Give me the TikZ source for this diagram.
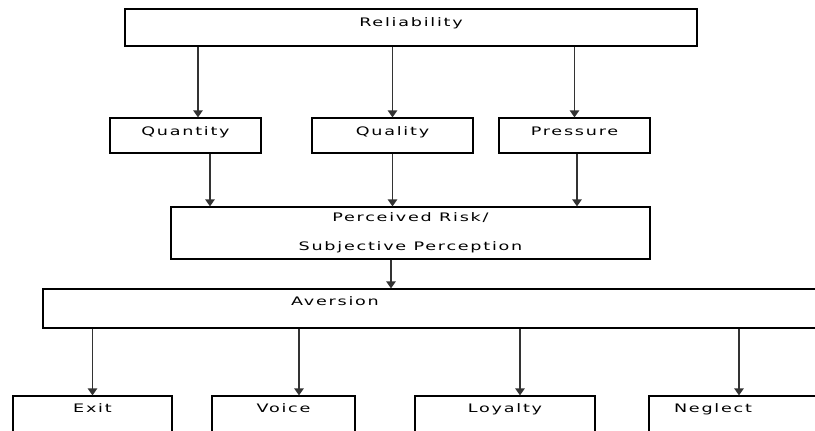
\documentclass[tikz,border=0pt]{standalone}
\usepackage{fontspec}
\setmainfont[FakeStretch=1.5,LetterSpace=15]{DejaVu Sans}
\usetikzlibrary{arrows.meta}

\begin{document}
\begin{tikzpicture}[node distance=3cm, font=\fontsize{10}{12}\selectfont,
  box/.style={rectangle,draw,line width=1pt,align=center,inner xsep=0pt,inner ysep=0pt},
  arr/.style={-{Triangle[length=6pt,width=8pt]},line width=1.2pt,black!80}]
\useasboundingbox (-12.33,0.825) rectangle (12.12,-12.075);

\node (rel) [box, minimum width=17.16cm, text height=0.51cm, text depth=0.6cm] {Reliability};

\node (qty) [box, below of=rel, xshift=-6.765cm, yshift=-0.24cm, minimum width=4.53cm, text height=0.525cm, text depth=0.525cm] {Quantity};
\node (qual) [box, right of=qty, xshift=3.21cm, minimum width=4.83cm, text height=0.525cm, text depth=0.525cm] {Quality};
\node (pres) [box, right of=qual, xshift=2.46cm, minimum width=4.53cm, text height=0.525cm, text depth=0.525cm] {Pressure};

\node (risk) [box, below of=qual, xshift=0.54cm, yshift=0.075cm, minimum width=14.37cm, minimum height=1.56cm] {Perceived Risk/\\[12.8pt]Subjective Perception};

\node (av) [box, below of=risk, xshift=0.63cm, yshift=0.735cm, minimum width=23.31cm, text height=0.48cm, text depth=0.69cm] {Aversion\hspace*{5.79cm}};

\node (exit) [box, below of=av, xshift=-10.17cm, yshift=-0.165cm, minimum width=4.77cm, text height=0.48cm, text depth=0.6cm] {Exit};
\node (voice) [box, right of=exit, xshift=2.73cm, minimum width=4.29cm, text height=0.48cm, text depth=0.6cm] {Voice};
\node (loyal) [box, right of=voice, xshift=3.645cm, minimum width=5.4cm, text height=0.48cm, text depth=0.6cm] {Loyalty};
\node (negl) [box, right of=loyal, xshift=3.885cm, minimum width=5.13cm, text height=0.48cm, text depth=0.6cm] {Neglect\hspace*{1.29cm}};

% Reliability to the three factors
\draw[arr] ([xshift=0.375cm]qty.north |- rel.south) -- ([xshift=0.375cm]qty.north);
\draw[arr] (qual.north |- rel.south) -- (qual.north);
\draw[arr] (pres.north |- rel.south) -- (pres.north);

% factors to perceived risk
\draw[arr] ([xshift=0.735cm]qty.south) -- ([xshift=0.735cm]qty.south |- risk.north);
\draw[arr] (qual.south) -- (qual.south |- risk.north);
\draw[arr] ([xshift=0.075cm]pres.south) -- ([xshift=0.075cm]pres.south |- risk.north);

\draw[arr] ([xshift=-0.585cm]risk.south) -- ([xshift=-0.585cm]risk.south |- av.north);

% Aversion to the responses
\draw[arr] (exit.north |- av.south) -- (exit.north);
\draw[arr] ([xshift=0.465cm]voice.north |- av.south) -- ([xshift=0.465cm]voice.north);
\draw[arr] ([xshift=0.45cm]loyal.north |- av.south) -- ([xshift=0.45cm]loyal.north);
\draw[arr] ([xshift=0.135cm]negl.north |- av.south) -- ([xshift=0.135cm]negl.north);

\end{tikzpicture}
\end{document}
